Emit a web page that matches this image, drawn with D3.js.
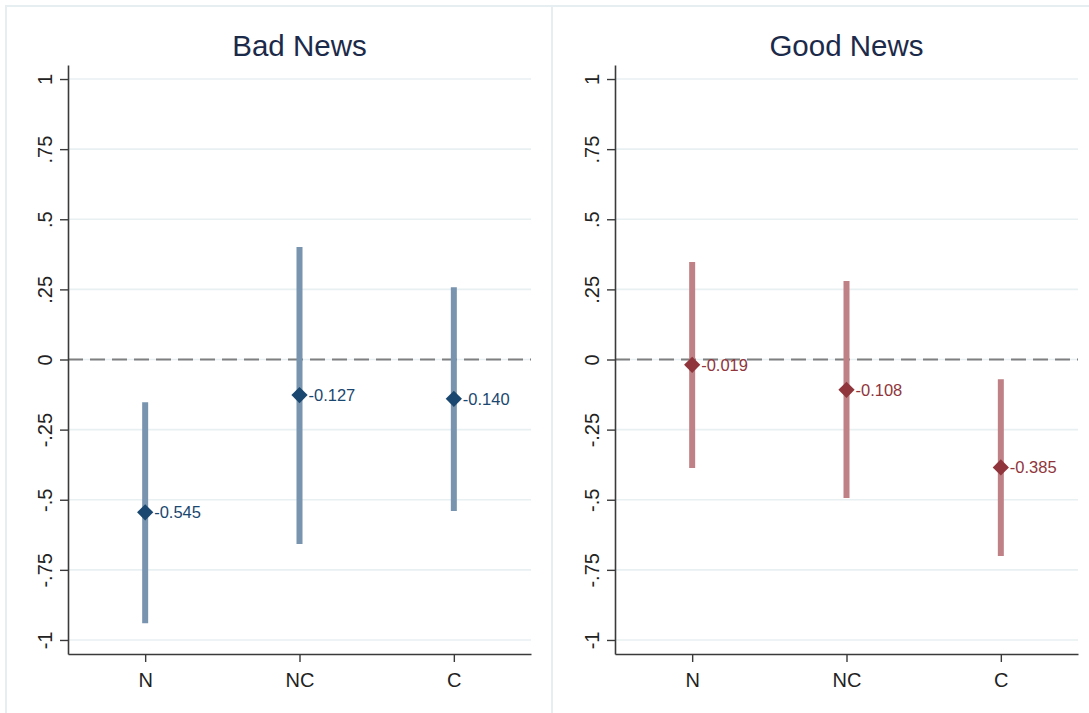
<!DOCTYPE html>
<html>
<head>
<meta charset="utf-8">
<script src="https://cdn.jsdelivr.net/npm/d3@7"></script>
<style>
  html, body { margin: 0; padding: 0; background: #ffffff; }
  svg { display: block; }
  text { font-family: "Liberation Sans", Arial, sans-serif; }
</style>
</head>
<body>
<svg id="chart" width="1089" height="713"></svg>
<script>
// Categories on the x axis
const categories = ["N", "NC", "C"];

// Bad News: point estimates and 95% interval bounds
const badEst = [-0.545, -0.127, -0.140];
const badLo  = [-0.940, -0.658, -0.540];
const badHi  = [-0.152,  0.401,  0.258];

// Good News: point estimates and 95% interval bounds
const goodEst = [-0.019, -0.108, -0.385];
const goodLo  = [-0.387, -0.494, -0.701];
const goodHi  = [ 0.348,  0.280, -0.070];

// Y tick values and their labels
const yTicks = [1, 0.75, 0.5, 0.25, 0, -0.25, -0.5, -0.75, -1];
const yTickLabels = ["1", ".75", ".5", ".25", "0", "-.25", "-.5", "-.75", "-1"];

const panels = [
  { title: "Bad News",  est: badEst,  lo: badLo,  hi: badHi,
    frameX: 6,   left: 68,  right: 531,
    barColor: "#7894ae", markColor: "#1a476f" },
  { title: "Good News", est: goodEst, lo: goodLo, hi: goodHi,
    frameX: 552, left: 615, right: 1078,
    barColor: "#bf8185", markColor: "#90353b" }
];

// value labels use a plain hyphen for the minus sign
const fmt = d3.formatLocale({ decimal: ".", thousands: ",", grouping: [3], currency: ["", ""], minus: "-" }).format(".3f");

const svg = d3.select("#chart");
const plotTop = 65, plotBottom = 654;

panels.forEach(p => {
  const g = svg.append("g");

  // light panel frame
  g.append("rect")
    .attr("x", p.frameX).attr("y", 6)
    .attr("width", 546).attr("height", 730)
    .attr("fill", "#ffffff")
    .attr("stroke", "#e6eef1").attr("stroke-width", 2);

  const x = d3.scaleLinear().domain([0.5, 3.5]).range([p.left, p.right]);
  const y = d3.scaleLinear().domain([-1.05, 1.05]).range([plotBottom, plotTop]);

  // gridlines
  g.append("g").selectAll("line")
    .data(yTicks)
    .join("line")
    .attr("x1", p.left).attr("x2", p.right)
    .attr("y1", d => y(d)).attr("y2", d => y(d))
    .attr("stroke", "#e8f0f2").attr("stroke-width", 1.6);

  // dashed zero reference line
  g.append("line")
    .attr("x1", p.left).attr("x2", p.right)
    .attr("y1", y(0)).attr("y2", y(0))
    .attr("stroke", "#7f7f7f").attr("stroke-width", 1.8)
    .attr("stroke-dasharray", "15,7");

  // title
  g.append("text")
    .attr("x", (p.left + p.right) / 2).attr("y", 56)
    .attr("text-anchor", "middle")
    .attr("font-size", 29.5)
    .attr("fill", "#1c2a4a")
    .text(p.title);

  // y axis
  const yAxis = d3.axisLeft(y)
    .tickValues(yTicks)
    .tickFormat((d, i) => yTickLabels[i])
    .tickSize(8)
    .tickSizeOuter(0);
  const ya = g.append("g").attr("transform", `translate(${p.left},0)`).call(yAxis);
  ya.select(".domain").attr("stroke", "#3a3a3a").attr("stroke-width", 1.6);
  ya.selectAll(".tick line").attr("stroke", "#3a3a3a").attr("stroke-width", 1.4);
  ya.selectAll(".tick text")
    .attr("font-size", 20)
    .attr("fill", "#222222")
    .attr("font-family", "Liberation Sans, Arial, sans-serif")
    .attr("x", null).attr("dy", null)
    .attr("text-anchor", "middle")
    .attr("transform", "translate(-16,0) rotate(-90)");

  // x axis
  const xAxis = d3.axisBottom(x)
    .tickValues([1, 2, 3])
    .tickFormat((d, i) => categories[i])
    .tickSize(8)
    .tickSizeOuter(0);
  const xa = g.append("g").attr("transform", `translate(0,${plotBottom})`).call(xAxis);
  xa.select(".domain").attr("stroke", "#3a3a3a").attr("stroke-width", 1.6);
  xa.selectAll(".tick line").attr("stroke", "#3a3a3a").attr("stroke-width", 1.4);
  xa.selectAll(".tick text")
    .attr("font-size", 20)
    .attr("fill", "#222222")
    .attr("font-family", "Liberation Sans, Arial, sans-serif")
    .attr("y", 19).attr("dy", "0.71em");

  const rows = categories.map((c, i) => ({ c, i, est: p.est[i], lo: p.lo[i], hi: p.hi[i] }));

  // interval bars
  g.append("g").selectAll("line")
    .data(rows)
    .join("line")
    .attr("x1", d => x(d.i + 1)).attr("x2", d => x(d.i + 1))
    .attr("y1", d => y(d.hi)).attr("y2", d => y(d.lo))
    .attr("stroke", p.barColor).attr("stroke-width", 6);

  // diamond markers
  const diamond = d3.symbol().type(d3.symbolSquare).size(132);
  g.append("g").selectAll("path")
    .data(rows)
    .join("path")
    .attr("d", diamond)
    .attr("transform", d => `translate(${x(d.i + 1)},${y(d.est)}) rotate(45)`)
    .attr("fill", p.markColor);

  // value labels
  g.append("g").selectAll("text")
    .data(rows)
    .join("text")
    .attr("x", d => x(d.i + 1) + 9)
    .attr("y", d => y(d.est))
    .attr("dy", "0.36em")
    .attr("font-size", 16.5)
    .attr("fill", p.markColor)
    .text(d => fmt(d.est));
});
</script>
</body>
</html>
